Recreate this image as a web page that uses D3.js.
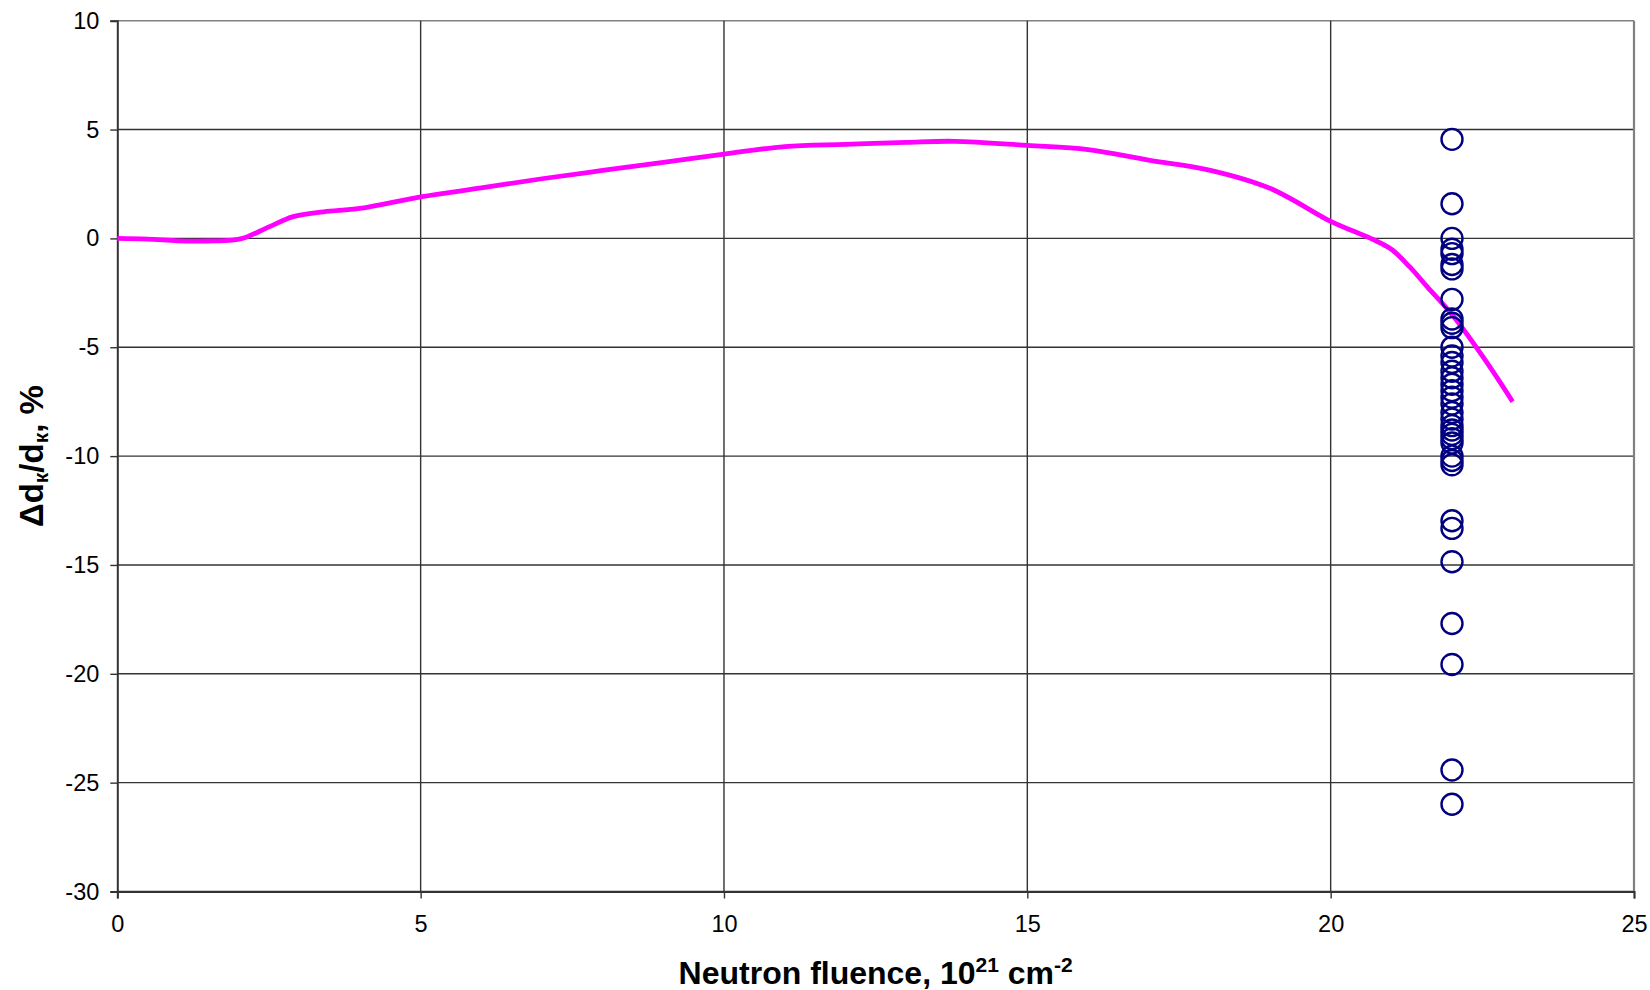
<!DOCTYPE html>
<html>
<head>
<meta charset="utf-8">
<script src="https://cdn.jsdelivr.net/npm/d3@7"></script>
<style>
  body { margin: 0; background: #fff; }
  text { font-family: "Liberation Sans", Arial, sans-serif; }
</style>
</head>
<body>
<div id="chart-area"></div>
<script>
// curve: relative change vs fluence
var lineX = [0, 0.5, 1, 1.5, 1.9, 2.1, 2.5, 2.9, 3.4, 4, 5, 6, 7, 8, 9, 10, 11, 12, 13, 13.8,
             15, 16, 17, 18, 19, 20, 20.35, 20.7, 21.0, 21.3, 21.6, 22, 22.5, 23];
var lineY = [0, -0.03, -0.11, -0.12, -0.08, 0.03, 0.53, 1.0, 1.22, 1.38, 1.91, 2.32, 2.74, 3.12, 3.49, 3.87, 4.22, 4.32, 4.41, 4.46,
             4.27, 4.08, 3.6, 3.14, 2.3, 0.78, 0.36, -0.05, -0.5, -1.3, -2.25, -3.5, -5.4, -7.5];

// measured points, all at 22
var pointX = 22;
var pointY = [4.55, 1.59, 0, -0.5, -0.7, -1.2, -1.4, -2.8, -3.7, -3.9, -4.1,
              -5.0, -5.4, -5.7, -6.1, -6.4, -6.7, -7.0, -7.3, -7.6, -8.0, -8.3, -8.6, -8.8, -9.0, -9.2, -9.4,
              -10.0, -10.2, -10.4, -12.97, -13.32, -14.85, -17.69, -19.57, -24.42, -25.99];

var xTicks = [0, 5, 10, 15, 20, 25];
var yTicks = [10, 5, 0, -5, -10, -15, -20, -25, -30];

var margin = { top: 20.7, left: 117.3, right: 16, bottom: 98.5 };
var width  = 1650 - margin.left - margin.right;
var height = 990 - margin.top - margin.bottom;

var svg = d3.select("#chart-area")
    .append("svg")
        .attr("width", 1650)
        .attr("height", 990);

var g = svg.append("g")
    .attr("transform", "translate(" + margin.left + "," + margin.top + ")");

var x = d3.scaleLinear().domain([0, 25]).range([0, width]);
var y = d3.scaleLinear().domain([-30, 10]).range([height, 0]);

// grid
g.selectAll(".hgrid")
    .data(yTicks)
    .enter().append("line")
        .attr("class", "hgrid")
        .attr("x1", 0).attr("x2", width)
        .attr("y1", function(d) { return y(d); })
        .attr("y2", function(d) { return y(d); })
        .attr("stroke", function(d) { return d === 10 ? "#808080" : "#333"; })
        .attr("stroke-width", 1.4);

g.selectAll(".vgrid")
    .data(xTicks.slice(1))
    .enter().append("line")
        .attr("class", "vgrid")
        .attr("y1", 0).attr("y2", height)
        .attr("x1", function(d) { return x(d); })
        .attr("x2", function(d) { return x(d); })
        .attr("stroke", function(d) { return d === 25 ? "#808080" : "#333"; })
        .attr("stroke-width", function(d) { return d === 25 ? 2.2 : 1.4; });

// axes
var xAxisCall = d3.axisBottom(x)
    .tickValues(xTicks)
    .tickSize(7)
    .tickPadding(17)
    .tickFormat(d3.format("d"));

var xAxis = g.append("g")
    .attr("class", "x-axis")
    .attr("transform", "translate(0," + height + ")")
    .call(xAxisCall);

var yAxisCall = d3.axisLeft(y)
    .tickValues(yTicks)
    .tickSize(7)
    .tickPadding(11)
    .tickFormat(function(d) { return d < 0 ? "-" + Math.abs(d) : d; });

var yAxis = g.append("g")
    .attr("class", "y-axis")
    .call(yAxisCall);

[xAxis, yAxis].forEach(function(a) {
    a.select(".domain").attr("stroke", "#333").attr("stroke-width", 2);
    a.selectAll(".tick line").attr("stroke", "#333").attr("stroke-width", 1.4);
    a.selectAll("text")
        .attr("fill", "#000")
        .style("font-family", "'Liberation Sans', Arial, sans-serif")
        .style("font-size", "23.5px");
});

// curve
var line = d3.line()
    .x(function(d, i) { return x(lineX[i]); })
    .y(function(d) { return y(d); })
    .curve(d3.curveCatmullRom.alpha(0.5));

g.append("path")
    .datum(lineY)
    .attr("d", line)
    .attr("fill", "none")
    .attr("stroke", "#ff00ff")
    .attr("stroke-width", 4.8)
    .attr("stroke-linejoin", "round");

// points
g.selectAll(".pt")
    .data(pointY)
    .enter().append("circle")
        .attr("class", "pt")
        .attr("cx", x(pointX))
        .attr("cy", function(d) { return y(d); })
        .attr("r", 10.5)
        .attr("fill", "none")
        .attr("stroke", "#000080")
        .attr("stroke-width", 2.4);

// axis titles
var xt = svg.append("text")
    .attr("x", margin.left + width / 2)
    .attr("y", 984)
    .attr("text-anchor", "middle")
    .attr("font-size", "32px")
    .attr("font-weight", "bold");
xt.append("tspan").text("Neutron fluence, 10");
xt.append("tspan").attr("font-size", "21px").attr("dy", -12).text("21");
xt.append("tspan").attr("dy", 12).text(" cm");
xt.append("tspan").attr("font-size", "21px").attr("dy", -12).text("-2");

var yt = svg.append("text")
    .attr("transform", "translate(43," + (margin.top + height / 2) + ") rotate(-90)")
    .attr("text-anchor", "middle")
    .attr("font-size", "33px")
    .attr("font-weight", "bold");
yt.append("tspan").text("\u0394d");
yt.append("tspan").attr("font-size", "21px").attr("dy", 5).text("\u043a");
yt.append("tspan").attr("dy", -5).text("/d");
yt.append("tspan").attr("font-size", "21px").attr("dy", 5).text("\u043a");
yt.append("tspan").attr("dy", -5).text(", %");
</script>
</body>
</html>
